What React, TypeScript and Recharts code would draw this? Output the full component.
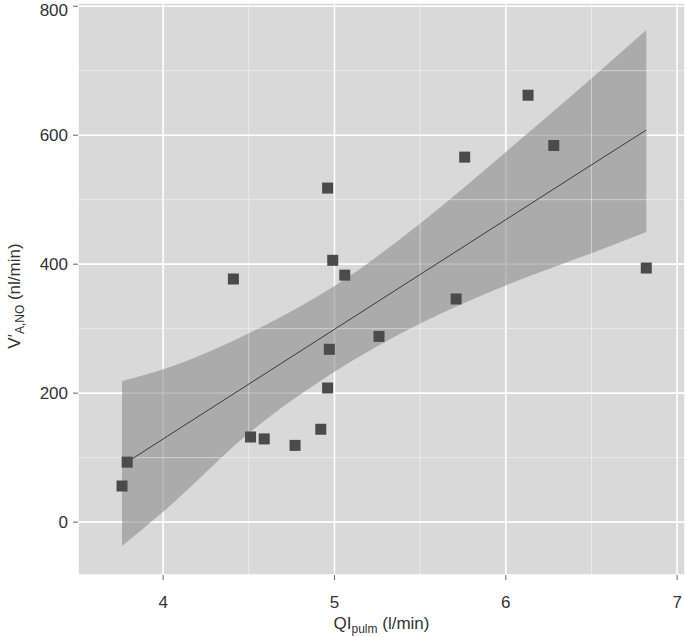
import React from "react";
import {
  Area,
  CartesianGrid,
  ComposedChart,
  Line,
  ReferenceLine,
  Scatter,
  XAxis,
  YAxis,
} from "recharts";

// observed points (QI pulm, V'A,NO)
const qiPulm = [3.76, 3.79, 4.41, 4.51, 4.59, 4.77, 4.92, 4.96, 4.97, 4.96, 4.99, 5.06, 5.26, 5.71, 5.76, 6.13, 6.28, 6.82];
const vano = [56, 93, 377, 132, 129, 119, 144, 208, 268, 518, 406, 383, 288, 346, 566, 662, 584, 394];

// fitted line and its confidence band
const fitX = [3.76, 4, 4.5, 5, 5.5, 6, 6.5, 6.82];
const fitY = [88, 129, 214, 299, 384, 469, 554, 608];
const bandLow = [-37, 16, 138, 233, 308, 367, 417, 450];
const bandHigh = [219, 237, 293, 366, 463, 574, 688, 763];

const xTicks = [4, 5, 6, 7];
const yTicks = [0, 200, 400, 600, 800];
const xMinor = [3.5, 4.5, 5.5, 6.5];
const yMinor = [100, 300, 500, 700];

const FONT = "'Liberation Sans', Arial, Helvetica, sans-serif";
const BG = "#d9d9d9";
const INK = "#333333";

const points = qiPulm.map((x, i) => ({ x, y: vano[i] }));
const fitRows = fitX.map((x, i) => ({ x, fit: fitY[i], band: [bandLow[i], bandHigh[i]] }));

function Square(props: any) {
  const { cx, cy } = props;
  if (cx == null || cy == null) return null;
  return <rect x={cx - 5.5} y={cy - 5.5} width={11} height={11} fill="#4b4b4b" />;
}

function XTitle(props: any) {
  const vb = props.viewBox;
  const cx = vb.x + vb.width / 2;
  return (
    <text x={cx} y={629} textAnchor="middle" fontFamily={FONT} fontSize={17} fill={INK}>
      <tspan>QI</tspan>
      <tspan fontSize={12} dy={4}>pulm</tspan>
      <tspan dy={-4}> (l/min)</tspan>
    </text>
  );
}

function YTitle() {
  const cx = 20;
  const cy = 296;
  return (
    <text
      x={cx}
      y={cy}
      transform={`rotate(-90 ${cx} ${cy})`}
      textAnchor="middle"
      fontFamily={FONT}
      fontSize={17}
      fill={INK}
    >
      <tspan>V′</tspan>
      <tspan fontSize={12} dy={4}>A,NO</tspan>
      <tspan dy={-4}> (nl/min)</tspan>
    </text>
  );
}

export default function App() {
  return (
    <div style={{ position: "absolute", left: 0, top: 0, width: 685, height: 637, background: "#fff" }}>
      <ComposedChart
        width={685}
        height={637}
        data={fitRows}
        margin={{ top: 3, right: 0, bottom: 0, left: 0 }}
      >
        <CartesianGrid fill={BG} stroke="#ffffff" strokeWidth={1.6} />
        {xMinor.map((v) => (
          <ReferenceLine key={`vx${v}`} x={v} stroke="#ffffff" strokeOpacity={0.45} strokeWidth={1} />
        ))}
        {yMinor.map((v) => (
          <ReferenceLine key={`hy${v}`} y={v} stroke="#ffffff" strokeOpacity={0.45} strokeWidth={1} />
        ))}
        <XAxis
          type="number"
          dataKey="x"
          domain={[3.503, 7.046]}
          ticks={xTicks}
          allowDataOverflow
          height={62}
          axisLine={false}
          tickSize={5}
          tickMargin={16}
          tickLine={{ stroke: "#666" }}
          tick={{ fill: INK, fontSize: 17, fontFamily: FONT }}
          label={<XTitle />}
        />
        <YAxis
          type="number"
          domain={[-82, 805]}
          ticks={yTicks}
          allowDataOverflow
          width={78}
          axisLine={false}
          tickSize={5}
          tickMargin={5}
          tickLine={{ stroke: "#666" }}
          tick={{ fill: INK, fontSize: 17, fontFamily: FONT }}
          label={<YTitle />}
        />
        <Area
          type="monotone"
          dataKey="band"
          stroke="none"
          fill="#8c8c8c"
          fillOpacity={0.6}
          isAnimationActive={false}
        />
        <Line
          type="linear"
          dataKey="fit"
          stroke="#3a3a3a"
          strokeWidth={1}
          dot={false}
          isAnimationActive={false}
        />
        <Scatter data={points} dataKey="y" shape={<Square />} isAnimationActive={false} />
      </ComposedChart>
    </div>
  );
}
